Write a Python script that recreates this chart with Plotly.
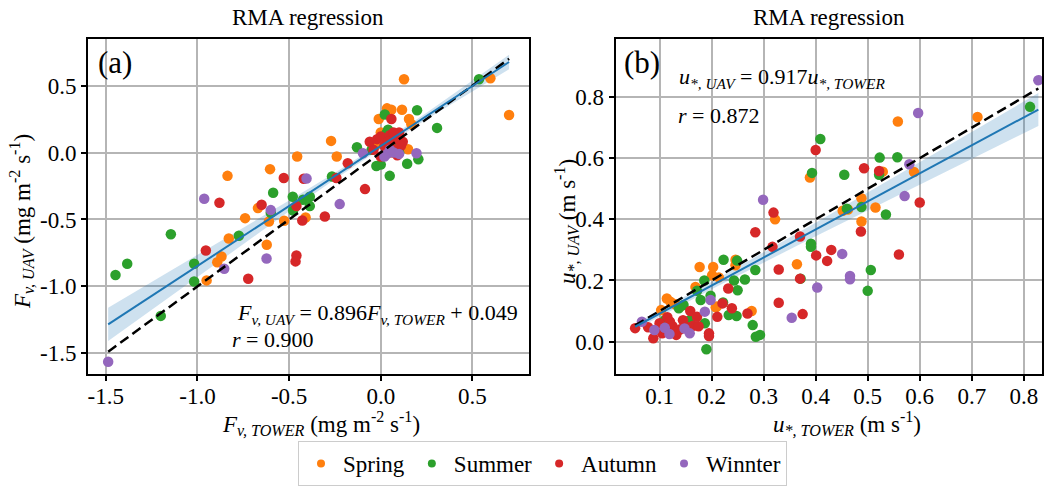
import plotly.graph_objects as go

# ---------------- data: panel (a) Fv ----------------
a_spring_x = [-0.456, -0.604, -0.836, -0.67, -0.74, 0.127, 0.598, 0.70, 0.034, 0.058, 0.116, -0.011, 0.154, 0.167,
              -0.271, -0.24, 0.149, -0.41, -0.95, -0.892, -0.869, -0.829, -0.622, -0.61, -0.527,
              0.0, 0.02, 0.09, -0.03, 0.06]
a_spring_y = [-0.03, -0.124, -0.174, -0.415, -0.49, 0.548, 0.555, 0.28, 0.33, 0.32, 0.32, 0.25, 0.25, 0.212,
              0.087, -0.03, 0.025, -0.485, -0.955, -0.82, -0.776, -0.642, -0.689, -0.515, -0.51,
              0.15, 0.1, 0.12, 0.05, 0.0]
a_summer_x = [-0.587, -0.48, -0.60, 0.536, 0.198, 0.022, 0.307, 0.04, 0.031, -0.13, 0.205, 0.144, -0.024, 0.049,
              -0.266, -0.424, -0.387, -0.387, -1.145, -1.383, -1.447, -1.018, -1.018, -0.774, -1.2, -0.478,
              0.0, 0.05, 0.08, -0.05, 0.1]
a_summer_y = [-0.30, -0.33, -0.45, 0.548, 0.316, 0.284, 0.184, 0.17, 0.145, 0.04, -0.05, -0.084, -0.1, -0.174,
              -0.179, -0.353, -0.33, -0.40, -0.61, -0.83, -0.915, -0.83, -0.963, -0.622, -1.22, -0.433,
              -0.09, 0.08, 0.05, 0.02, 0.0]
a_autumn_x = [-0.529, -0.42, -0.88, -0.65, -0.46, 0.058, -0.02, 0.0, 0.02, 0.05, 0.08, 0.1, 0.12, 0.03, 0.06,
              0.09, -0.04, 0.0, 0.11, 0.04, 0.07, -0.06, -0.18, -0.086, -0.242, -0.305, -0.954, -0.723,
              -0.46, -0.465, -0.428]
a_autumn_y = [-0.19, -0.196, -0.375, -0.39, -0.40, 0.25, 0.1, 0.12, 0.05, 0.13, 0.1, 0.15, 0.08, 0.0, 0.03,
              -0.02, 0.02, -0.03, 0.05, 0.08, 0.15, 0.08, -0.08, -0.273, -0.19, -0.478, -0.731, -0.943,
              -0.769, -0.813, -0.508]
a_winter_x = [-0.963, -0.60, -0.097, 0.195, -0.405, -0.224, 0.035, 0.07, -0.854, -0.623, -1.487, 0.05, 0.1, 0.02]
a_winter_y = [-0.345, -0.43, -0.005, -0.005, -0.194, -0.385, -0.01, 0.0, -0.868, -0.791, -1.562, 0.02, -0.01, -0.03]

slope_a = 0.896
intercept_a = 0.049
r_a = 0.900
ci_a_x = [-1.487, -1.2, -1.0, -0.75, -0.5, -0.25, 0.0, 0.25, 0.5, 0.70]
ci_a_half = [0.125, 0.10, 0.08, 0.06, 0.04, 0.025, 0.02, 0.025, 0.04, 0.055]

# ---------------- data: panel (b) u* ----------------
b_spring_x = [0.322, 0.389, 0.711, 0.558, 0.529, 0.589, 0.488, 0.515, 0.452, 0.462, 0.488, 0.364, 0.246, 0.246,
              0.177, 0.203, 0.201, 0.214, 0.169, 0.114, 0.121, 0.13, 0.208, 0.277, 0.103, 0.14, 0.21]
b_spring_y = [0.40, 0.537, 0.735, 0.72, 0.556, 0.555, 0.469, 0.439, 0.428, 0.432, 0.393, 0.253, 0.268, 0.25,
              0.244, 0.244, 0.217, 0.21, 0.179, 0.141, 0.13, 0.122, 0.112, 0.10, 0.103, 0.115, 0.115]
b_summer_x = [0.393, 0.409, 0.812, 0.523, 0.557, 0.522, 0.455, 0.46, 0.488, 0.535, 0.506, 0.50, 0.391, 0.391,
              0.371, 0.223, 0.249, 0.284, 0.186, 0.243, 0.264, 0.25, 0.172, 0.146, 0.179, 0.198, 0.222,
              0.233, 0.248, 0.279, 0.285, 0.293, 0.19, 0.187, 0.11, 0.158, 0.137]
b_summer_y = [0.552, 0.663, 0.768, 0.602, 0.603, 0.546, 0.546, 0.435, 0.44, 0.416, 0.234, 0.166, 0.32, 0.31,
              0.206, 0.268, 0.265, 0.234, 0.20, 0.20, 0.203, 0.168, 0.166, 0.12, 0.136, 0.15, 0.128,
              0.087, 0.084, 0.054, 0.016, 0.022, -0.025, 0.06, 0.07, 0.07, 0.109]
b_autumn_x = [0.319, 0.40, 0.493, 0.522, 0.60, 0.487, 0.401, 0.43, 0.422, 0.56, 0.284, 0.317, 0.37, 0.329,
              0.37, 0.329, 0.375, 0.232, 0.221, 0.239, 0.269, 0.195, 0.195, 0.211, 0.053, 0.088, 0.105,
              0.132, 0.14, 0.159, 0.172, 0.155, 0.125, 0.115, 0.078, 0.145, 0.165, 0.175, 0.12, 0.1, 0.135]
b_autumn_y = [0.422, 0.627, 0.567, 0.558, 0.455, 0.36, 0.282, 0.30, 0.264, 0.285, 0.358, 0.31, 0.344, 0.236,
              0.206, 0.127, 0.09, 0.174, 0.125, 0.109, 0.092, 0.027, 0.018, 0.081, 0.044, 0.011, 0.027,
              0.022, 0.04, 0.10, 0.081, 0.047, 0.05, 0.08, 0.047, 0.07, 0.052, 0.05, 0.065, 0.06, 0.035]
b_winter_x = [0.299, 0.828, 0.597, 0.58, 0.571, 0.451, 0.466, 0.466, 0.403, 0.354, 0.187, 0.066, 0.09, 0.11,
              0.119, 0.148, 0.158, 0.198]
b_winter_y = [0.464, 0.855, 0.748, 0.58, 0.476, 0.287, 0.215, 0.204, 0.177, 0.078, 0.098, 0.065, 0.038, 0.045,
              0.025, 0.043, 0.027, 0.136]

slope_b = 0.917
r_b = 0.872
ci_b_x = [0.053, 0.2, 0.4, 0.6, 0.828]
ci_b_half = [0.01, 0.012, 0.022, 0.037, 0.054]

seasons = ["Spring", "Summer", "Autumn", "Winnter"]
colors = ["#ff7f0e", "#2ca02c", "#d62728", "#9467bd"]

a_tick_vals = [-1.5, -1.0, -0.5, 0.0, 0.5]
a_tick_text = ["-1.5", "-1.0", "-0.5", "0.0", "0.5"]
b_xtick_vals = [0.1, 0.2, 0.3, 0.4, 0.5, 0.6, 0.7, 0.8]
b_xtick_text = ["0.1", "0.2", "0.3", "0.4", "0.5", "0.6", "0.7", "0.8"]
b_ytick_vals = [0.0, 0.2, 0.4, 0.6, 0.8]
b_ytick_text = ["0.0", "0.2", "0.4", "0.6", "0.8"]

FONT = "Liberation Serif"
BLUE = "#1f77b4"
W, H = 1049, 487


def px(X):
    return X / W


def py(Y):
    return 1 - Y / H


fig = go.Figure()

panels = [
    ("x", "y", [(a_spring_x, a_spring_y), (a_summer_x, a_summer_y), (a_autumn_x, a_autumn_y), (a_winter_x, a_winter_y)],
     slope_a, intercept_a, ci_a_x, ci_a_half),
    ("x2", "y2", [(b_spring_x, b_spring_y), (b_summer_x, b_summer_y), (b_autumn_x, b_autumn_y), (b_winter_x, b_winter_y)],
     slope_b, 0.0, ci_b_x, ci_b_half),
]

for xa, ya, groups, slope, icpt, cx, ch in panels:
    allx = [v for g in groups for v in g[0]]
    xmin, xmax = min(allx), max(allx)
    up = [slope * x + icpt + h for x, h in zip(cx, ch)]
    lo = [slope * x + icpt - h for x, h in zip(cx, ch)]
    fig.add_trace(go.Scatter(x=cx + cx[::-1], y=up + lo[::-1], fill="toself", mode="lines",
                             line=dict(width=0), fillcolor="rgba(31,119,180,0.22)",
                             xaxis=xa, yaxis=ya, showlegend=False, hoverinfo="skip"))
    for (gx, gy), name, col in zip(groups, seasons, colors):
        fig.add_trace(go.Scatter(x=gx, y=gy, mode="markers", name=name,
                                 marker=dict(color=col, size=10.5, line=dict(width=0)),
                                 xaxis=xa, yaxis=ya, showlegend=False))
    fig.add_trace(go.Scatter(x=[xmin, xmax], y=[xmin, xmax], mode="lines",
                             line=dict(color="black", width=2.5, dash="10px,5px"),
                             xaxis=xa, yaxis=ya, showlegend=False))
    fig.add_trace(go.Scatter(x=[xmin, xmax], y=[slope * xmin + icpt, slope * xmax + icpt], mode="lines",
                             line=dict(color=BLUE, width=2),
                             xaxis=xa, yaxis=ya, showlegend=False))

for name, col in zip(seasons, colors):
    fig.add_trace(go.Scatter(x=[None], y=[None], mode="markers", name=name,
                             marker=dict(color=col, size=8), showlegend=True))

axis_common = dict(showline=True, linecolor="black", linewidth=2, mirror=True,
                   ticks="outside", ticklen=5, tickwidth=1.5, tickcolor="black",
                   showgrid=True, gridcolor="#b5b5b5", gridwidth=1.5, zeroline=False,
                   automargin=False,
                   tickfont=dict(family=FONT, size=23, color="black"))

ydom = [py(374), py(39)]
fig.update_layout(
    width=W, height=H,
    margin=dict(l=0, r=0, t=0, b=0, autoexpand=False),
    paper_bgcolor="white", plot_bgcolor="white",
    font=dict(family=FONT, color="black"),
    xaxis=dict(domain=[px(88), px(528.7)], range=[-1.597, 0.807], anchor="y",
               tickvals=a_tick_vals, ticktext=a_tick_text, ticklabelstandoff=-5, **axis_common),
    yaxis=dict(domain=ydom, range=[-1.654, 0.848], anchor="x",
               tickvals=a_tick_vals, ticktext=a_tick_text, **axis_common),
    xaxis2=dict(domain=[px(615.7), px(1042)], range=[0.0157, 0.835], anchor="y2",
                tickvals=b_xtick_vals, ticktext=b_xtick_text, ticklabelstandoff=-5, **axis_common),
    yaxis2=dict(domain=ydom, range=[-0.106, 0.99], anchor="x2",
                tickvals=b_ytick_vals, ticktext=b_ytick_text, **axis_common),
    legend=dict(orientation="h", x=px(542.5), xanchor="center", y=py(486), yanchor="bottom",
                bordercolor="#cccccc", borderwidth=1, bgcolor="white", itemwidth=34,
                font=dict(family=FONT, size=23, color="black")),
    showlegend=True,
)

f23 = dict(family=FONT, size=23, color="black")
f22 = dict(family=FONT, size=22, color="black")
annotations = [
    # panel titles
    dict(x=px(308), y=py(17), text="RMA regression", font=f23, xanchor="center", yanchor="middle"),
    dict(x=px(829), y=py(17), text="RMA regression", font=f23, xanchor="center", yanchor="middle"),
    # panel letters
    dict(x=px(96), y=py(62), text="(a)", font=dict(family=FONT, size=31, color="black"),
         xanchor="left", yanchor="middle"),
    dict(x=px(622), y=py(62), text="(b)", font=dict(family=FONT, size=31, color="black"),
         xanchor="left", yanchor="middle"),
    # axis titles
    dict(x=px(321), y=py(423), text="<i>F</i><sub><i>v, TOWER</i></sub> (mg m<sup>-2</sup> s<sup>-1</sup>)",
         font=f23, xanchor="center", yanchor="middle"),
    dict(x=px(847), y=py(423), text="<i>u</i><sub><i>*, TOWER</i></sub> (m s<sup>-1</sup>)",
         font=f23, xanchor="center", yanchor="middle"),
    dict(x=px(21), y=py(222), text="<i>F</i><sub><i>v, UAV</i></sub> (mg m<sup>-2</sup> s<sup>-1</sup>)",
         font=f23, xanchor="center", yanchor="middle", textangle=-90),
    dict(x=px(566), y=py(222), text="<i>u</i><sub><i>*, UAV</i></sub> (m s<sup>-1</sup>)",
         font=f23, xanchor="center", yanchor="middle", textangle=-90),
    # equations
    dict(x=px(235), y=py(314),
         text=f"<i>F</i><sub><i>v, UAV</i></sub> = {slope_a:.3f}<i>F</i><sub><i>v, TOWER</i></sub> + {intercept_a:.3f}",
         font=f22, xanchor="left", yanchor="middle"),
    dict(x=px(230), y=py(339), text=f"<i>r</i> = {r_a:.3f}", font=f22, xanchor="left", yanchor="middle"),
    dict(x=px(677), y=py(78),
         text=f"<i>u</i><sub><i>*, UAV</i></sub> = {slope_b:.3f}<i>u</i><sub><i>*, TOWER</i></sub>",
         font=f22, xanchor="left", yanchor="middle"),
    dict(x=px(676), y=py(115), text=f"<i>r</i> = {r_b:.3f}", font=f22, xanchor="left", yanchor="middle"),
]
for a in annotations:
    a.update(xref="paper", yref="paper", showarrow=False)
fig.update_layout(annotations=annotations)

fig.write_html("out.html",
               config={"displayModeBar": False},
               post_script="document.body.style.margin='0';document.body.style.overflow='hidden';")
